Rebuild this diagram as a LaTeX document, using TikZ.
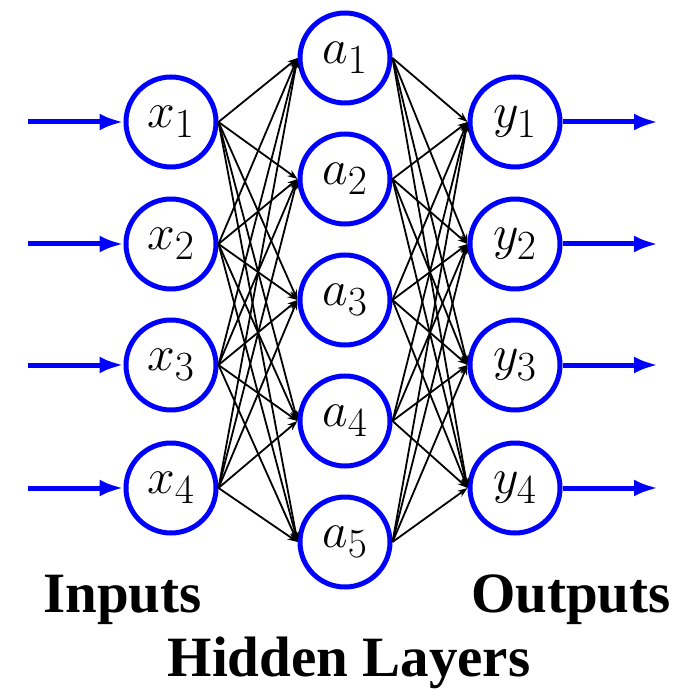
\documentclass[tikz,border=0pt]{standalone}
\usepackage{amsmath}
\usepackage{fontspec}
\setmainfont{Liberation Serif}
\usepackage{tikz}
\usetikzlibrary{arrows.meta}

\begin{document}
\begin{tikzpicture}[
    x=0.5pt, y=-0.5pt,
    neuron/.style={circle, draw=blue, line width=2.5pt, minimum size=45pt, inner sep=0pt,
                   font=\fontsize{31}{36}\selectfont},
    wire/.style={-{Stealth[length=5pt,width=3.6pt]}, line width=0.9pt, black},
    io/.style={-{Latex[length=12pt,width=8.5pt]}, line width=2.5pt, blue},
    lbl/.style={font=\fontsize{28.5}{34}\selectfont\bfseries, anchor=base},
]
\useasboundingbox (0,0) rectangle (681,689);
% input layer
\node[neuron] (x1) at (171,122) {$x_1$};
\node[neuron] (x2) at (171,244) {$x_2$};
\node[neuron] (x3) at (171,365) {$x_3$};
\node[neuron] (x4) at (171,488) {$x_4$};
% hidden layer
\node[neuron] (a1) at (345,58) {$a_1$};
\node[neuron] (a2) at (345,179) {$a_2$};
\node[neuron] (a3) at (345,300) {$a_3$};
\node[neuron] (a4) at (345,421) {$a_4$};
\node[neuron] (a5) at (345,542) {$a_5$};
% output layer
\node[neuron] (y1) at (515,122) {$y_1$};
\node[neuron] (y2) at (515,244) {$y_2$};
\node[neuron] (y3) at (515,365) {$y_3$};
\node[neuron] (y4) at (515,488) {$y_4$};
% connections
\foreach \i in {1,...,4}
  \foreach \j in {1,...,5}
    \draw[wire] (x\i.east) -- (a\j.west);
\foreach \j in {1,...,5}
  \foreach \k in {1,...,4}
    \draw[wire] (a\j.east) -- (y\k.west);
% in and out arrows
\coordinate (in1) at (28,122);
\coordinate (in2) at (28,244);
\coordinate (in3) at (28,365);
\coordinate (in4) at (28,488);
\coordinate (out1) at (658,122);
\coordinate (out2) at (658,244);
\coordinate (out3) at (658,365);
\coordinate (out4) at (658,488);
\foreach \i in {1,...,4} {
  \draw[io] (in\i) -- (x\i.west);
  \draw[io] (y\i.east) -- (out\i);
}
\node[lbl] (inputs) at (122.5,612) {Inputs};
\node[lbl] (outputs) at (571,612) {Outputs};
\node[lbl] (hidden) at (349,676) {Hidden Layers};
\end{tikzpicture}
\end{document}
